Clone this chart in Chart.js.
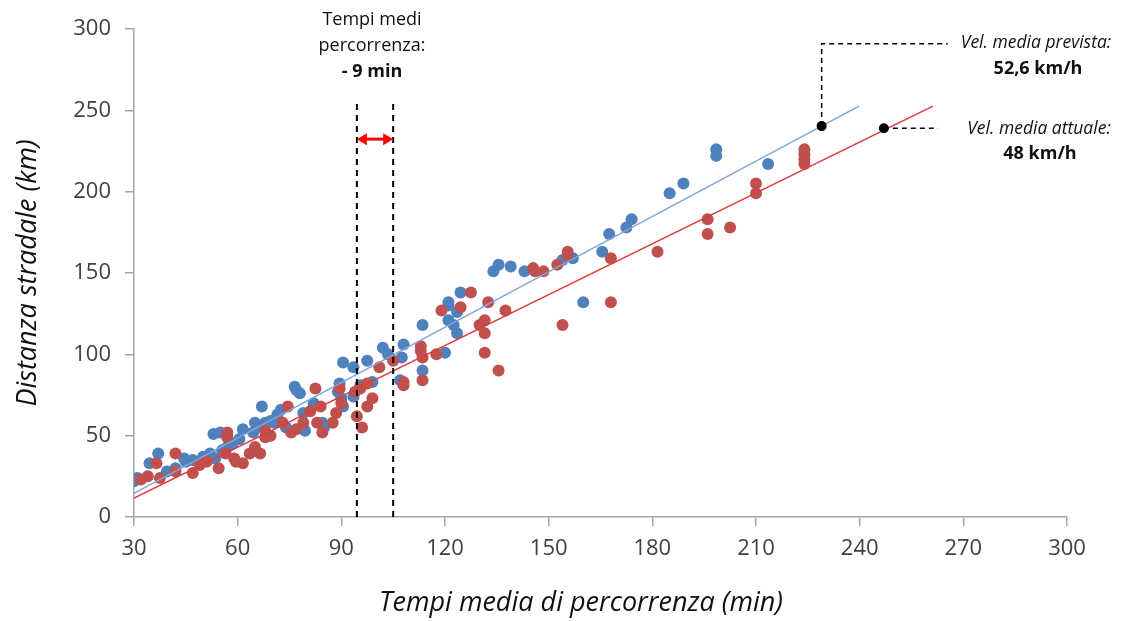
<!DOCTYPE html>
<html>
<head>
    <meta charset="UTF-8">
    <title>Tempi medi di percorrenza</title>
    <script src="https://cdn.jsdelivr.net/npm/chart.js"></script>
    <style>
        body { margin: 0; background: #fff; }
        #wrap { width: 1125px; height: 621px; }
    </style>
</head>
<body>
<div id="wrap"><canvas id="scatterChart" width="1125" height="621"></canvas></div>
<script>
    // tempi (min) e distanze (km) - serie blu (prevista)
    var blueTimes = [30, 31, 34.5, 37, 39.5, 42, 44.5, 45, 47, 50, 52, 53, 53.5, 55, 55.5, 57, 58.5, 60.5, 61.5,
        64.5, 65, 66, 67, 68, 69.5, 70.5, 71.5, 72.5, 74, 76.5, 77, 78, 79, 79.5, 82, 84.5, 85, 89, 89.5, 90,
        90.5, 90.5, 93.5, 93.5, 95.5, 97.5, 99, 102, 103.5, 107, 107.5, 108, 113.5, 113.5, 120, 121, 121, 121,
        122.5, 123.5, 123.5, 124.5, 134, 135.5, 139, 143, 154, 157, 160, 165.5, 167.5, 172.5, 174, 185, 189,
        198.5, 198.5, 213.5];
    var blueDist = [22, 24, 33, 39, 28, 30, 36, 34, 35, 37, 39, 51, 36, 52, 41, 43, 45, 48, 54,
        52, 58, 55, 68, 58, 59, 58, 63, 66, 55, 80, 78, 76, 64, 53, 70, 58, 55, 77, 82, 73,
        95, 68, 92, 74, 81, 96, 83, 104, 100, 84, 98, 106, 90, 118, 101, 121, 130, 132,
        118, 113, 126, 138, 151, 155, 154, 151, 158, 159, 132, 163, 174, 178, 183, 199, 205,
        222, 226, 217];

    // serie rossa (attuale)
    var redTimes = [32, 34, 36.5, 37.5, 42, 42, 47, 49, 51, 54.5, 56.5, 57, 57, 59, 59.5, 61.5, 63.5, 65, 66.5,
        68, 68, 69.5, 73, 74.5, 75.5, 77, 79, 81, 82.5, 83, 84, 84.5, 87.5, 88.5, 89.5, 90, 94, 94.5, 95.5,
        96, 97.5, 97.5, 99, 101, 105, 108, 108, 113, 113, 113.5, 113.5, 117.5, 119, 124.5, 127.5, 130, 131.5,
        131.5, 131.5, 132.5, 135.5, 137.5, 145.5, 146, 148.5, 152.5, 154, 155.5, 155.5, 168, 168, 181.5,
        196, 196, 202.5, 210, 210, 224, 224, 224, 224];
    var redDist = [23, 25, 33, 24, 39, 28, 27, 32, 34, 30, 39, 52, 49, 36, 34, 33, 39, 43, 39,
        53, 49, 50, 58, 68, 52, 54, 58, 65, 79, 58, 68, 52, 58, 64, 79, 70, 77, 62, 79,
        55, 82, 68, 73, 92, 96, 83, 81, 105, 102, 98, 84, 100, 127, 129, 138, 118, 121,
        113, 101, 132, 90, 127, 153, 151, 151, 155, 118, 163, 161, 159, 132, 163,
        183, 174, 178, 205, 199, 226, 223, 220, 217];

    // linee di tendenza (estremi)
    var blueTrendT = [30, 239.8];
    var blueTrendD = [14.6, 252.6];
    var redTrendT = [30, 261.2];
    var redTrendD = [11.7, 252.6];

    // punti evidenziati e intervallo
    var speedPoints = [{ t: 229, d: 240.3 }, { t: 247, d: 239 }];
    var gapTimes = [94.5, 105];

    var xTicks = [30, 60, 90, 120, 150, 180, 210, 240, 270, 300];
    var yTicks = [0, 50, 100, 150, 200, 250, 300];

    function toPoints(xs, ys) {
        return xs.map(function(x, i) { return { x: x, y: ys[i] }; });
    }

    var annotations = {
        id: 'annotations',
        afterDatasetsDraw: function(chart) {
            var c = chart.ctx;
            var xs = chart.scales.x, ys = chart.scales.y;
            c.save();

            // linee tratteggiate verticali
            c.strokeStyle = '#000';
            c.lineWidth = 2;
            c.setLineDash([6, 5]);
            gapTimes.forEach(function(t) {
                c.beginPath();
                c.moveTo(xs.getPixelForValue(t), ys.getPixelForValue(0));
                c.lineTo(xs.getPixelForValue(t), ys.getPixelForValue(254.5));
                c.stroke();
            });

            // connettori
            c.lineWidth = 1.5;
            c.setLineDash([5, 4]);
            var p0x = xs.getPixelForValue(speedPoints[0].t), p0y = ys.getPixelForValue(speedPoints[0].d);
            var topY = ys.getPixelForValue(291);
            c.beginPath();
            c.moveTo(p0x, p0y);
            c.lineTo(p0x, topY);
            c.lineTo(xs.getPixelForValue(265.5), topY);
            c.stroke();
            var p1x = xs.getPixelForValue(speedPoints[1].t), p1y = ys.getPixelForValue(speedPoints[1].d);
            c.beginPath();
            c.moveTo(p1x, p1y);
            c.lineTo(xs.getPixelForValue(262.7), p1y);
            c.stroke();
            c.setLineDash([]);

            // freccia rossa
            var ay = ys.getPixelForValue(232.3);
            var ax1 = xs.getPixelForValue(gapTimes[0]), ax2 = xs.getPixelForValue(gapTimes[1]);
            c.strokeStyle = '#ff0000';
            c.fillStyle = '#ff0000';
            c.lineWidth = 3;
            c.beginPath();
            c.moveTo(ax1 + 6, ay);
            c.lineTo(ax2 - 6, ay);
            c.stroke();
            c.beginPath();
            c.moveTo(ax1, ay); c.lineTo(ax1 + 10, ay - 6); c.lineTo(ax1 + 10, ay + 6); c.closePath();
            c.fill();
            c.beginPath();
            c.moveTo(ax2, ay); c.lineTo(ax2 - 10, ay - 6); c.lineTo(ax2 - 10, ay + 6); c.closePath();
            c.fill();

            // punti neri
            c.fillStyle = '#000';
            speedPoints.forEach(function(p) {
                c.beginPath();
                c.arc(xs.getPixelForValue(p.t), ys.getPixelForValue(p.d), 5, 0, Math.PI * 2);
                c.fill();
            });

            // testi
            c.fillStyle = '#111';
            c.textAlign = 'center';
            c.textBaseline = 'middle';
            var mid = (ax1 + ax2) / 2 - 3;
            c.font = '18px "Open Sans"';
            c.fillText('Tempi medi', mid, 20);
            c.fillText('percorrenza:', mid, 46);
            c.font = 'bold 18px "Open Sans"';
            c.fillText('- 9 min', mid, 72);

            c.font = 'italic 17.5px "Open Sans"';
            c.fillText('Vel. media prevista:', 1036, 43);
            c.fillText('Vel. media attuale:', 1039, 129);
            c.font = 'bold 18px "Open Sans"';
            c.fillText('52,6 km/h', 1038, 69);
            c.fillText('48 km/h', 1040, 154);

            // titolo asse x (leggermente a sinistra del centro, come nell'originale)
            c.font = 'italic 27px "Open Sans"';
            c.fillText('Tempi media di percorrenza (min)', 581, 603);
            c.restore();
        }
    };

    var ctx = document.getElementById('scatterChart').getContext('2d');
    var scatterChart = new Chart(ctx, {
        type: 'scatter',
        data: {
            datasets: [
                {
                    type: 'line',
                    label: 'Tendenza prevista',
                    data: toPoints(blueTrendT, blueTrendD),
                    borderColor: '#7fa7d9',
                    borderWidth: 1.5,
                    pointRadius: 0,
                    fill: false,
                    order: 1
                },
                {
                    type: 'line',
                    label: 'Tendenza attuale',
                    data: toPoints(redTrendT, redTrendD),
                    borderColor: '#e03a3a',
                    borderWidth: 1.5,
                    pointRadius: 0,
                    fill: false,
                    order: 0
                },
                {
                    label: 'Attuale',
                    data: toPoints(redTimes, redDist),
                    backgroundColor: '#c0504d',
                    borderColor: '#c0504d',
                    pointRadius: 6,
                    borderWidth: 0,
                    order: 2
                },
                {
                    label: 'Prevista',
                    data: toPoints(blueTimes, blueDist),
                    backgroundColor: '#4f81bd',
                    borderColor: '#4f81bd',
                    pointRadius: 6,
                    borderWidth: 0,
                    order: 3
                }
            ]
        },
        options: {
            responsive: false,
            animation: false,
            layout: { padding: { top: 29, right: 58, left: 0, bottom: 0 } },
            plugins: {
                legend: { display: false },
                tooltip: { enabled: false }
            },
            scales: {
                x: {
                    type: 'linear',
                    min: 30,
                    max: 300,
                    afterBuildTicks: function(scale) {
                        scale.ticks = xTicks.map(function(v) { return { value: v }; });
                    },
                    afterFit: function(scale) { scale.height = 104; },
                    grid: { drawOnChartArea: false, color: '#a6a6a6', tickLength: 9, lineWidth: 1.5 },
                    border: { color: '#a6a6a6', width: 1.5 },
                    ticks: { color: '#404040', font: { family: 'Open Sans', size: 22 }, padding: 10 },
                    title: { display: false }
                },
                y: {
                    min: 0,
                    max: 300,
                    afterBuildTicks: function(scale) {
                        scale.ticks = yTicks.map(function(v) { return { value: v }; });
                    },
                    afterFit: function(scale) { scale.width = 134; },
                    grid: { drawOnChartArea: false, color: '#a6a6a6', tickLength: 9, lineWidth: 1.5 },
                    border: { color: '#a6a6a6', width: 1.5 },
                    ticks: { color: '#404040', font: { family: 'Open Sans', size: 22 }, padding: 14 },
                    title: {
                        display: true,
                        text: 'Distanza stradale (km)',
                        color: '#111',
                        font: { family: 'Open Sans', size: 27, style: 'italic' },
                        padding: { top: 12, bottom: 6 }
                    }
                }
            }
        },
        plugins: [annotations]
    });
</script>
</body>
</html>
